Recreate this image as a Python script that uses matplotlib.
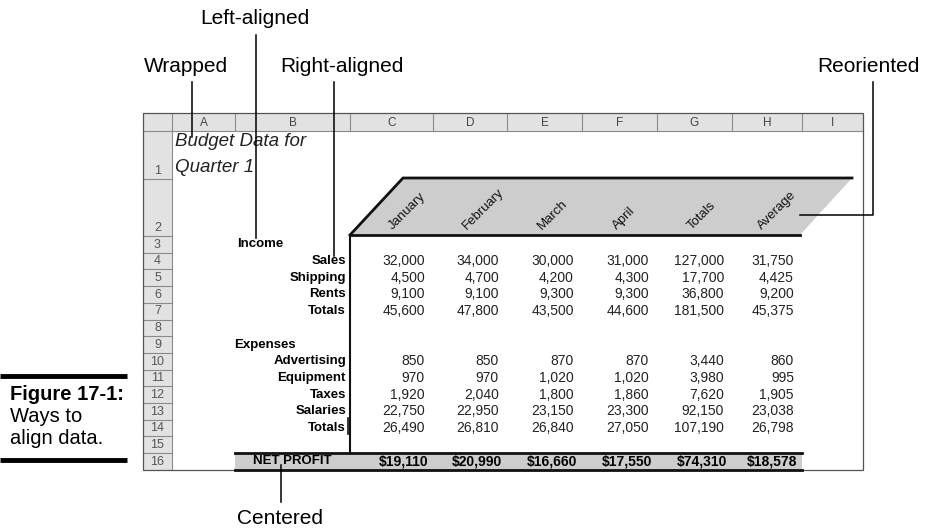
"""Figure 17-1: Ways to align data (spreadsheet screenshot, redrawn)."""
import matplotlib as mpl
import matplotlib.pyplot as plt
from matplotlib.patches import Rectangle, Polygon

mpl.rcParams.update({
    "font.family": ["Liberation Sans", "DejaVu Sans"],
    "font.size": 9.5,
})

# ── Data ──
col_letters = ['A', 'B', 'C', 'D', 'E', 'F', 'G', 'H', 'I']
months = ['January', 'February', 'March', 'April', 'Totals', 'Average']

income_labels = ['Sales', 'Shipping', 'Rents', 'Totals']
income_vals = [
    [32000, 34000, 30000, 31000, 127000, 31750],
    [4500, 4700, 4200, 4300, 17700, 4425],
    [9100, 9100, 9300, 9300, 36800, 9200],
    [45600, 47800, 43500, 44600, 181500, 45375],
]
expense_labels = ['Advertising', 'Equipment', 'Taxes', 'Salaries', 'Totals']
expense_vals = [
    [850, 850, 870, 870, 3440, 860],
    [970, 970, 1020, 1020, 3980, 995],
    [1920, 2040, 1800, 1860, 7620, 1905],
    [22750, 22950, 23150, 23300, 92150, 23038],
    [26490, 26810, 26840, 27050, 107190, 26798],
]
net_profit = [19110, 20990, 16660, 17550, 74310, 18578]

# ── Layout (pixel space) ──
W, H = 927, 531
col_edges = [143, 172, 235, 350, 433, 507, 582, 657, 732, 802, 863]
head_top, head_bot = 113, 131
row_edges = [131, 179, 236] + [236 + 16.7 * k for k in range(1, 15)]
sheet_bot = row_edges[-1]


def row_mid(r):
    return (row_edges[r - 1] + row_edges[r]) / 2


fig = plt.figure(figsize=(W / 100, H / 100), dpi=100)
ax = fig.add_axes([0, 0, 1, 1])
ax.set_xlim(0, W); ax.set_ylim(H, 0)
ax.axis('off')

GRID = '#8a8a8a'
HEAD = '#e2e2e2'
FILL = '#cdcdcd'

# ═══ Sheet frame: column header + row numbers ═══
ax.add_patch(Rectangle((col_edges[0], head_top), col_edges[-1] - col_edges[0], head_bot - head_top,
                       facecolor=HEAD, edgecolor='none', zorder=1))
ax.add_patch(Rectangle((col_edges[0], head_bot), col_edges[1] - col_edges[0], sheet_bot - head_bot,
                       facecolor=HEAD, edgecolor='none', zorder=1))
for x in col_edges[1:-1]:
    ax.plot([x, x], [head_top, head_bot], color=GRID, lw=0.8, zorder=2)
ax.plot([col_edges[1], col_edges[1]], [head_bot, sheet_bot], color=GRID, lw=0.8, zorder=2)
ax.plot([col_edges[0], col_edges[-1]], [head_bot, head_bot], color=GRID, lw=0.8, zorder=2)
for y in row_edges[1:-1]:
    ax.plot([col_edges[0], col_edges[1]], [y, y], color=GRID, lw=0.8, zorder=2)
ax.add_patch(Rectangle((col_edges[0], head_top), col_edges[-1] - col_edges[0], sheet_bot - head_top,
                       facecolor='none', edgecolor='#555555', lw=0.9, zorder=3))

for i, lt in enumerate(col_letters):
    ax.text((col_edges[i + 1] + col_edges[i + 2]) / 2, (head_top + head_bot) / 2 + 1, lt,
            ha='center', va='center', fontsize=8.5, color='#444444', zorder=4)
for r in range(1, 17):
    ax.text((col_edges[0] + col_edges[1]) / 2, row_edges[r] - 2, str(r),
            ha='center', va='bottom', fontsize=9, color='#555555', zorder=4)

# ═══ Title cell (wrapped) ═══
ax.text(175, 142, 'Budget Data for', ha='left', va='center', fontsize=13.5,
        style='italic', color='#222222', zorder=4)
ax.text(175, 167, 'Quarter 1', ha='left', va='center', fontsize=13.5,
        style='italic', color='#222222', zorder=4)

# ═══ Reoriented month header ═══
ax.add_patch(Polygon([(350, 235), (403, 178), (852, 178), (800, 235)], closed=True,
                     facecolor=FILL, edgecolor='none', zorder=2))
ax.plot([350, 403, 852], [235, 178, 178], color='#111111', lw=2, zorder=3,
        solid_joinstyle='miter')
ax.plot([350, 800], [235, 235], color='#111111', lw=2, zorder=3)
ax.plot([350, 350], [235, 452], color='#111111', lw=1.5, zorder=3)
ax.plot([348, 348], [418, 434], color='#111111', lw=1.2, zorder=3)
for j, m in enumerate(months):
    ax.text(col_edges[j + 4] - 38, 232, m, rotation=45, rotation_mode='anchor',
            ha='left', va='bottom', fontsize=9.5, color='#111111', zorder=4)

# ═══ Body ═══
ax.text(237, row_mid(3), 'Income', ha='left', va='center', fontweight='bold', zorder=4)
ax.text(234, row_mid(9), 'Expenses', ha='left', va='center', fontweight='bold', zorder=4)

for rows, labels, vals in [(range(4, 8), income_labels, income_vals),
                           (range(10, 15), expense_labels, expense_vals)]:
    for r, lab, v in zip(rows, labels, vals):
        ax.text(346, row_mid(r), lab, ha='right', va='center', fontweight='bold', zorder=4)
        for j, val in enumerate(v):
            ax.text(col_edges[j + 4] - 8, row_mid(r), f'{val:,}', ha='right', va='center',
                    fontsize=10, color='#222222', zorder=4)

# NET PROFIT row (centered)
ax.add_patch(Rectangle((235, row_edges[15]), 802 - 235, sheet_bot - row_edges[15],
                       facecolor=FILL, edgecolor='none', zorder=2))
ax.plot([235, 802], [row_edges[15], row_edges[15]], color='#111111', lw=2, zorder=3)
ax.plot([235, 802], [sheet_bot, sheet_bot], color='#111111', lw=2, zorder=3)
ax.text((col_edges[2] + col_edges[3]) / 2, row_mid(16), 'NET PROFIT', ha='center', va='center',
        fontweight='bold', fontsize=9.5, zorder=4)
for j, val in enumerate(net_profit):
    ax.text(col_edges[j + 4] - 5, row_mid(16), f'${val:,}', ha='right', va='center',
            fontweight='bold', fontsize=10, zorder=4)

# ═══ Callouts ═══
CALL = dict(fontsize=15, color='black', ha='center', va='center', zorder=6)
LINE = dict(color='black', lw=1.1, zorder=5)
ax.text(255, 19, 'Left-aligned', **CALL)
ax.plot([256, 256], [35, 238], **LINE)
ax.text(186, 66, 'Wrapped', **CALL)
ax.plot([192, 192], [82, 137], **LINE)
ax.text(342, 66, 'Right-aligned', **CALL)
ax.plot([334, 334], [82, 256], **LINE)
ax.text(868, 66, 'Reoriented', **CALL)
ax.plot([873, 873, 800], [82, 215, 215], **LINE)
ax.text(280, 518, 'Centered', **CALL)
ax.plot([281, 281], [465, 502], **LINE)

# ═══ Caption ═══
ax.plot([0, 127], [376, 376], color='black', lw=3.5, solid_capstyle='butt')
ax.plot([0, 127], [460, 460], color='black', lw=3.5, solid_capstyle='butt')
ax.text(10, 395, 'Figure 17-1:', ha='left', va='center', fontsize=14.5, fontweight='bold')
ax.text(10, 417, 'Ways to', ha='left', va='center', fontsize=14.5)
ax.text(10, 439, 'align data.', ha='left', va='center', fontsize=14.5)

fig.savefig('out.png', dpi=100, facecolor='white')
plt.close(fig)
